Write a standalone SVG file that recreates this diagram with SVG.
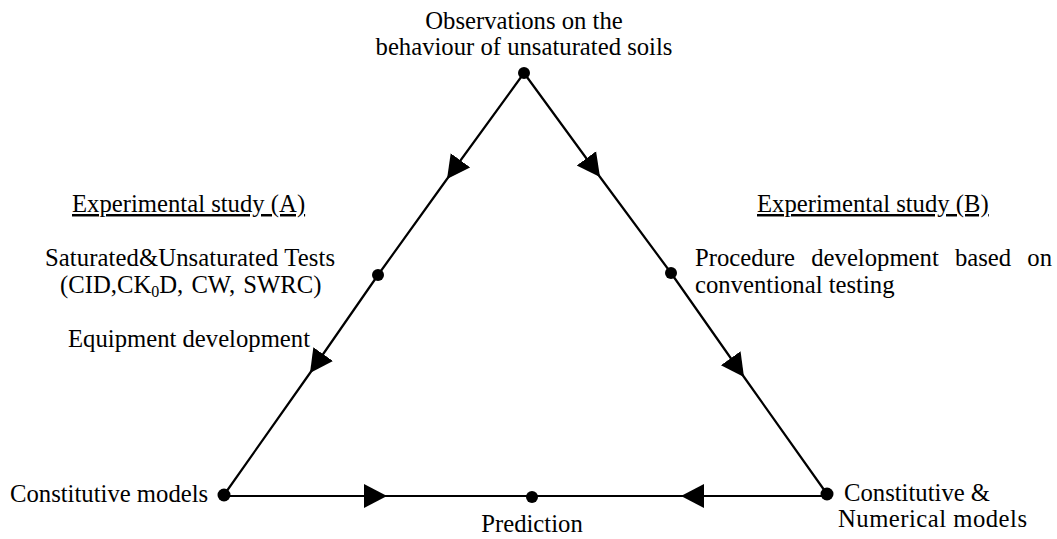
<svg xmlns="http://www.w3.org/2000/svg" width="1057" height="539" viewBox="0 0 1057 539">
<style>
text{font-family:"Liberation Serif","Times New Roman",serif;font-size:24.7px;fill:#000}
.e{stroke:#000;stroke-width:2.2;fill:none;marker-mid:url(#arr)}
.dot{fill:#000}
.u{text-decoration:underline}
</style>
<defs>
<marker id="arr" markerUnits="userSpaceOnUse" markerWidth="25" markerHeight="26" refX="23" refY="12.5" orient="auto" viewBox="0 0 25 26">
<path d="M0,0.5 L23,12.5 L0,24.5 Z" fill="#000"/>
</marker>
</defs>
<g id="connectors">
<path class="e" d="M524,73 L447,179 L378,275"/>
<path class="e" d="M378,275 L310,373 L224,495"/>
<path class="e" d="M524,73 L600,177 L671,273"/>
<path class="e" d="M671,273 L744,377 L827,494"/>
<path class="e" d="M224,496 L387,496 L532,496"/>
<path class="e" d="M827,496 L681,496 L532,496"/>
</g>
<g id="node-top">
<circle class="dot" cx="524" cy="73" r="6"/>
<text x="524" y="29" text-anchor="middle">Observations on the</text>
<text x="524" y="55" text-anchor="middle">behaviour of unsaturated soils</text>
</g>
<g id="node-left">
<circle class="dot" cx="378" cy="275" r="6"/>
<text class="u" x="72" y="212">Experimental study (A)</text>
<text x="45" y="266" textLength="290" lengthAdjust="spacing">Saturated&amp;Unsaturated Tests</text>
<text x="60" y="293" word-spacing="2">(CID,CK<tspan font-size="16" dy="4">0</tspan><tspan dy="-4">D, CW, SWRC)</tspan></text>
<text x="68" y="347">Equipment development</text>
</g>
<g id="node-right">
<circle class="dot" cx="671" cy="273" r="6"/>
<text class="u" x="757" y="212">Experimental study (B)</text>
<text x="695" y="266" word-spacing="10">Procedure development based on</text>
<text x="695" y="293">conventional testing</text>
</g>
<g id="node-bl">
<circle class="dot" cx="224" cy="495" r="6.5"/>
<text x="10" y="502">Constitutive models</text>
</g>
<g id="node-bottom">
<circle class="dot" cx="532" cy="497" r="6"/>
<text x="532" y="532" text-anchor="middle">Prediction</text>
</g>
<g id="node-br">
<circle class="dot" cx="827" cy="494" r="6.5"/>
<text x="844" y="501">Constitutive &amp;</text>
<text x="838" y="527" textLength="189" lengthAdjust="spacing">Numerical models</text>
</g>
</svg>
